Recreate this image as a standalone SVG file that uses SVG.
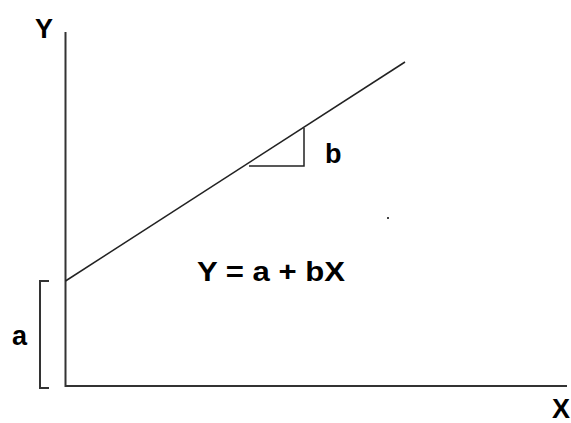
<svg xmlns="http://www.w3.org/2000/svg" width="571" height="423" viewBox="0 0 571 423">
<style>
.ax{fill:none;stroke:#333;stroke-width:2}
.ln{fill:none;stroke:#222;stroke-width:1.5}
.t{font-family:"Liberation Sans",Arial,sans-serif;font-weight:bold;font-size:27px;fill:#000}
</style>
<rect width="571" height="423" fill="#fff"/>
<g id="connectors">
<polyline class="ax" points="65.5,32 65.5,386 567,386"/>
<line class="ln" x1="65.5" y1="281" x2="405" y2="62"/>
<polyline class="ln" points="249,166 304,166 304,128"/>
<polyline class="ax" points="49,281 40,281 40,388 49,388"/>
<rect x="387" y="217" width="2" height="2" fill="#444"/>
</g>
<g id="labelY"><text class="t" x="35" y="38">Y</text></g>
<g id="labelX"><text class="t" x="552" y="418">X</text></g>
<g id="labelB"><text class="t" x="325" y="163">b</text></g>
<g id="labelA"><text class="t" x="12" y="345">a</text></g>
<g id="equation"><text class="t" x="197" y="281" textLength="148" lengthAdjust="spacingAndGlyphs">Y = a + bX</text></g>
</svg>
